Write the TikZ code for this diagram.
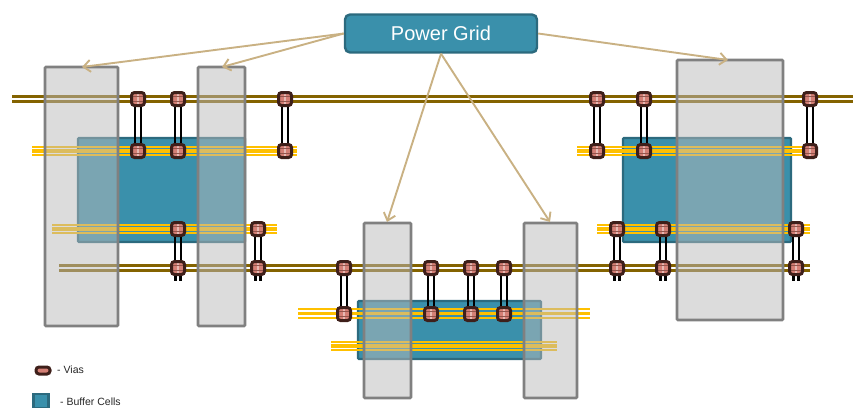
\documentclass[tikz,border=0pt]{standalone}
\usepackage{fontspec}
\setmainfont{Liberation Sans}
\usetikzlibrary{arrows.meta}
\definecolor{cellteal}{HTML}{3A90AB}
\definecolor{celledge}{HTML}{2C6A7E}
\definecolor{railbrown}{HTML}{846300}
\definecolor{wireyellow}{HTML}{FFC000}
\definecolor{feedtan}{HTML}{C9B183}
\definecolor{viafill}{HTML}{D47F75}
\definecolor{viaedge}{HTML}{3E1F1A}
\tikzset{
    feed/.style={draw=feedtan,line width=1.9pt,-{Straight Barb[length=7pt,width=12pt]}},
    rail/.style={draw=railbrown,line width=2.8pt},
    strap/.style={draw=black!50,line width=2.8pt,fill=black!27,fill opacity=.5},
    cell/.style={draw=celledge,line width=2.4pt,fill=cellteal},
    tie/.style={draw=black,line width=2.6pt},
    via/.style={draw=viaedge,line width=3pt,fill=viafill,rounded corners=3pt,
        minimum size=13pt,inner sep=0pt,
        path picture={
            \draw[white!45!viafill,line width=1.2pt]
                (path picture bounding box.center) ++(0,-8) -- ++(0,16);
            \draw[viaedge!45!viafill,line width=.8pt]
                (path picture bounding box.center) ++(-8,-2.5) -- ++(16,0)
                (path picture bounding box.center) ++(-8,2.5) -- ++(16,0);
        }},
    note/.style={font=\fontsize{10.5}{12}\selectfont,text=black!85,anchor=west,inner sep=0pt}
}
\begin{document}
\begin{tikzpicture}[x=1pt,y=-1pt]
\useasboundingbox (0,0) rectangle (853,407);
\clip (0,0) rectangle (853,407);

% buffer cells
\foreach \xa/\ya/\xb/\yb in {78/138/245/242,358/301/541/359,623/138/791/242}
{
    \draw[cell,rounded corners=1pt] (\xa,\ya) rectangle (\xb,\yb);
}

% rails
\foreach \xa/\xb/\y in {12/853/96.7,59/810/265.7}
{
    \draw[rail] (\xa,\y) -- (\xb,\y);
    \draw[rail] (\xa,\y+5) -- (\xb,\y+5);
}

% yellow wires
\foreach \xa/\xb/\y in {32/297/151,52/277/229,298/590/313.5,331/557/345.7,577/810/151,597/810/229}
{
    \draw[wireyellow,line width=2pt] (\xa,\y-4.2) -- (\xb,\y-4.2);
    \draw[wireyellow,line width=3.8pt] (\xa,\y) -- (\xb,\y);
    \draw[wireyellow,line width=2pt] (\xa,\y+4.2) -- (\xb,\y+4.2);
}

% straps
\foreach \xa/\ya/\xb/\yb in {45/67/118/326,198/67/245/326,364/223/411/398,524/223/577/398,677/60/783/320}
{
    \draw[strap,rounded corners=1pt] (\xa,\ya) rectangle (\xb,\yb);
}

% vias and ties
\foreach \x/\ya/\yb in {138/99/151,178/99/151,285/99/151,597/99/151,644/99/151,810/99/151,
    178/229/268,258/229/268,617/229/268,663/229/268,796/229/268,
    344/268/314,431/268/314,471/268/314,504/268/314}
{
    \node[via] (up\x\ya) at (\x,\ya) {};
    \node[via] (dn\x\ya) at (\x,\yb) {};
    \draw[tie] ([xshift=-3pt]up\x\ya.south) -- ([xshift=-3pt]dn\x\ya.north);
    \draw[tie] ([xshift=3pt]up\x\ya.south) -- ([xshift=3pt]dn\x\ya.north);
}

% stubs under the lower rail
\foreach \x in {178,258,617,663,796}
{
    \coordinate (stub\x) at (\x,281);
    \draw[tie] ([xshift=-2.5pt]dn\x229.south) -- ([xshift=-2.5pt]stub\x);
    \draw[tie] ([xshift=2.5pt]dn\x229.south) -- ([xshift=2.5pt]stub\x);
}

% power grid feeds
\node[draw=celledge,line width=2.4pt,fill=cellteal,rounded corners=5pt,
    minimum width=192pt,minimum height=38pt,inner sep=0pt,text=white,
    font=\fontsize{20}{24}\selectfont] (grid) at (441,33.5) {Power Grid};
\foreach \name/\x/\y in {a/82/67,b/222/67,c/387/222,d/550/222,e/728/60}
{
    \coordinate (end\name) at (\x,\y);
}
\draw[feed] (grid.west) -- (enda);
\draw[feed] (grid.west) -- (endb);
\draw[feed] (grid.south) -- (endc);
\draw[feed] (grid.south) -- (endd);
\draw[feed] (grid.east) -- (ende);

% legend
\node[draw=viaedge,line width=3pt,fill=viafill,rounded corners=3pt,inner sep=0pt,
    minimum width=14pt,minimum height=7pt] (keyvia) at (43,370.5) {};
\node[note] (keyviatext) at (57,370) {- Vias};
\draw[cell] (33.5,394) rectangle (48.5,408);
\node[note] (keycelltext) at (60,402) {- Buffer Cells};
\end{tikzpicture}
\end{document}
